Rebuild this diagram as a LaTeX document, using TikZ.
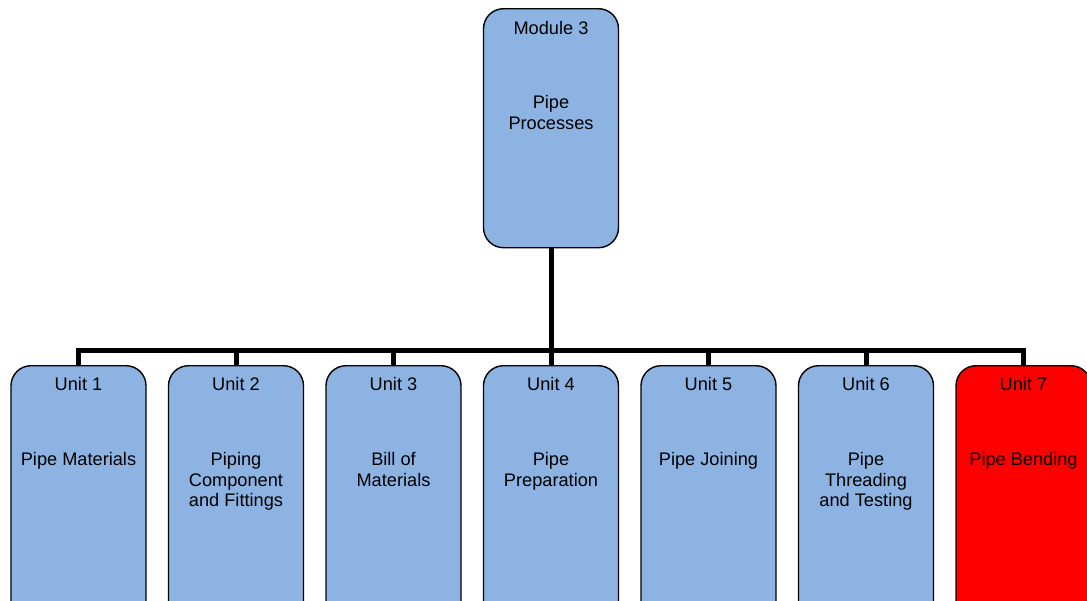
\documentclass[tikz,border=0pt]{standalone}
\usepackage{fontspec}
\setmainfont{Liberation Sans}
\definecolor{boxblue}{HTML}{8DB3E2}
\definecolor{boxred}{HTML}{FF0000}
\begin{document}
\begin{tikzpicture}[x=1pt,y=-1pt,
  box/.style={draw=black, line width=1.4pt, rounded corners=20pt, fill=boxblue,
    minimum width=135pt, inner sep=0pt, anchor=north},
  redbox/.style={box, fill=boxred},
  lbl/.style={font=\fontsize{18.2}{20.8}\selectfont, align=center, inner sep=0pt, anchor=north, text=black},
  conn/.style={line width=5pt, black}]
\useasboundingbox (0,0) rectangle (1087,600);
\clip (0,0) rectangle (1087,600);

% top node
\node[box, minimum height=239pt] (m) at (551,8) {};
\node[lbl, yshift=-12.8pt] (mt) at (m.north) {Module 3};
\node[lbl, yshift=-87.3pt] (mb) at (m.north) {Pipe\\Processes};

% unit nodes
\foreach \i/\x/\t in {1/78.5/{Pipe Materials},
                      2/236/{Piping\\Component\\and Fittings},
                      3/393.5/{Bill of\\Materials},
                      4/551/{Pipe\\Preparation},
                      5/708.5/{Pipe Joining},
                      6/866/{Pipe\\Threading\\and Testing}}{
  \node[box, minimum height=275pt] (u\i) at (\x,365) {};
  \node[lbl, yshift=-12pt] (u\i t) at (u\i.north) {Unit \i};
  \node[lbl, yshift=-87pt] (u\i b) at (u\i.north) {\t};
}
\node[redbox, minimum height=275pt] (u7) at (1023.5,365) {};
\node[lbl, yshift=-12pt] (u7t) at (u7.north) {Unit 7};
\node[lbl, yshift=-87pt] (u7b) at (u7.north) {Pipe Bending};

% connectors
\coordinate (bus) at (551,350);
\draw[conn] (m.south) -- (bus);
\foreach \i in {1,...,7}{
  \draw[conn] (u\i.north) -- (u\i.north |- bus);
}
\draw[conn, line cap=rect] (u1.north |- bus) -- (u7.north |- bus);
\end{tikzpicture}
\end{document}
